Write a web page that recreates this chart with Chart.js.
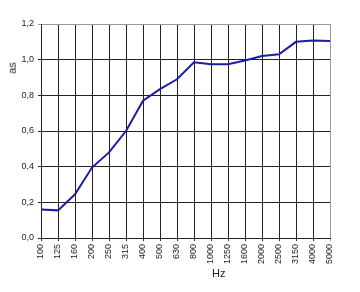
<!DOCTYPE html>
<html>
<head>
<meta charset="utf-8">
<script src="https://cdn.jsdelivr.net/npm/chart.js@4"></script>
<style>
  html, body { margin: 0; padding: 0; background: #fff; }
  #wrap { position: relative; width: 360px; height: 292px; }
  .axis-title { position: absolute; font: 11px "Liberation Sans", Arial, sans-serif; color: #222; line-height: 12px; }
  #hz { left: 212px; top: 267px; }
  #as { left: 6px; top: 62px; transform: rotate(-90deg); transform-origin: center; }
</style>
</head>
<body>
<div id="wrap">
  <canvas id="chart" width="360" height="292"></canvas>
  <div id="hz" class="axis-title">Hz</div>
  <div id="as" class="axis-title">as</div>
</div>
<script>
// frequency bands (Hz)
const freqLabels = ['100', '125', '160', '200', '250', '315', '400', '500', '630', '800',
                    '1000', '1250', '1600', '2000', '2500', '3150', '4000', '5000'];
// absorption coefficient
const asValues = [0.16, 0.155, 0.245, 0.395, 0.48, 0.60, 0.77, 0.835, 0.89, 0.985,
                  0.975, 0.975, 0.995, 1.02, 1.03, 1.10, 1.108, 1.104];

const tickFont = { family: 'Liberation Sans', size: 9 };

function commaNum(v) {
    return Number(v).toFixed(1).replace('.', ',');
}

const ctx = document.getElementById('chart');
new Chart(ctx, {
    type: 'line',
    data: {
        labels: freqLabels,
        datasets: [{
            data: asValues,
            borderColor: '#1c1ca6',
            borderWidth: 2,
            pointRadius: 0,
            tension: 0,
            fill: false
        }]
    },
    options: {
        responsive: false,
        animation: false,
        layout: { padding: { top: 24, right: 30, left: 0, bottom: 0 } },
        plugins: { legend: { display: false }, tooltip: { enabled: false } },
        scales: {
            x: {
                offset: false,
                grid: {
                    color: (c) => c.index === freqLabels.length - 1 ? '#999' : '#222',
                    lineWidth: 1,
                    tickLength: 3
                },
                border: { color: '#222' },
                ticks: {
                    font: tickFont,
                    color: '#222',
                    maxRotation: 90,
                    minRotation: 90,
                    autoSkip: false,
                    padding: 3
                },
                afterFit: (s) => { s.height = 54; }
            },
            y: {
                min: 0,
                max: 1.2,
                grid: {
                    color: (c) => c.index === 6 ? '#999' : '#222',
                    lineWidth: 1,
                    tickLength: 3
                },
                border: { color: '#222' },
                ticks: {
                    stepSize: 0.2,
                    font: tickFont,
                    color: '#222',
                    padding: 4,
                    callback: (v) => commaNum(v)
                },
                afterFit: (s) => { s.width = 41; }
            }
        }
    }
});
</script>
</body>
</html>
